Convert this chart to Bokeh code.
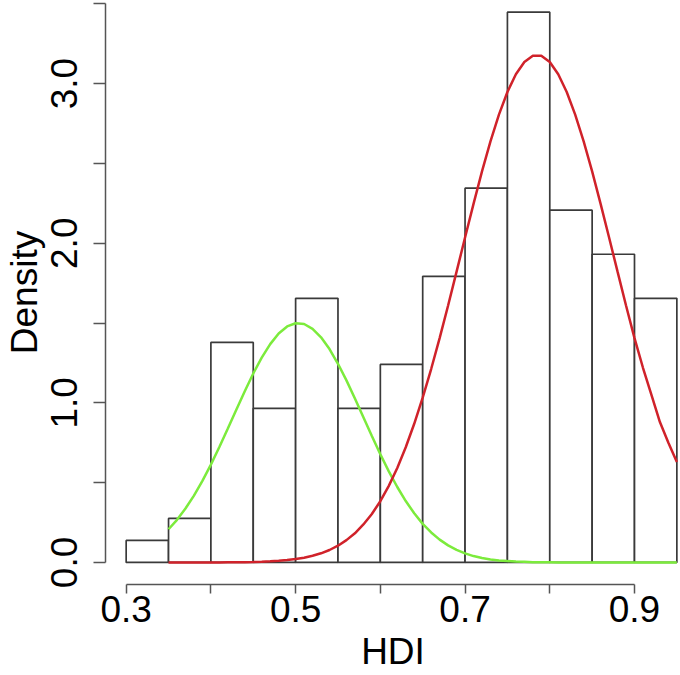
from bokeh.plotting import figure
from bokeh.models import FixedTicker, Range1d
from bokeh.embed import file_html
from bokeh.resources import INLINE

# Histogram of HDI (density scale), bin breaks every 0.05
bin_left = [0.30, 0.35, 0.40, 0.45, 0.50, 0.55, 0.60, 0.65, 0.70, 0.75, 0.80, 0.85, 0.90]
bin_right = [0.35, 0.40, 0.45, 0.50, 0.55, 0.60, 0.65, 0.70, 0.75, 0.80, 0.85, 0.90, 0.95]
density = [0.138, 0.276, 1.379, 0.966, 1.655, 0.966, 1.241, 1.793, 2.345, 3.448, 2.207, 1.931, 1.655]

# Fitted component curves
curve_x = [0.35, 0.36, 0.37, 0.38, 0.39, 0.40, 0.41, 0.42, 0.43, 0.44,
           0.45, 0.46, 0.47, 0.48, 0.49, 0.50, 0.51, 0.52, 0.53, 0.54,
           0.55, 0.56, 0.57, 0.58, 0.59, 0.60, 0.61, 0.62, 0.63, 0.64,
           0.65, 0.66, 0.67, 0.68, 0.69, 0.70, 0.71, 0.72, 0.73, 0.74,
           0.75, 0.76, 0.77, 0.78, 0.79, 0.80, 0.81, 0.82, 0.83, 0.84,
           0.85, 0.86, 0.87, 0.88, 0.89, 0.90, 0.91, 0.92, 0.93, 0.94, 0.95]
green_y = [0.208, 0.267, 0.338, 0.419, 0.511, 0.613, 0.723, 0.839, 0.957, 1.073,
           1.184, 1.283, 1.368, 1.435, 1.479, 1.499, 1.494, 1.464, 1.411, 1.337,
           1.245, 1.141, 1.027, 0.910, 0.792, 0.678, 0.571, 0.473, 0.385, 0.308,
           0.242, 0.188, 0.143, 0.107, 0.079, 0.057, 0.040, 0.028, 0.019, 0.013,
           0.009, 0.006, 0.004, 0.002, 0.001, 0.001, 0.0, 0.0, 0.0, 0.0,
           0.0, 0.0, 0.0, 0.0, 0.0, 0.0, 0.0, 0.0, 0.0, 0.0, 0.0]
red_y = [0.0, 0.0, 0.0, 0.0001, 0.0002, 0.0003, 0.0005, 0.0009, 0.0013, 0.0020,
         0.0031, 0.0047, 0.0070, 0.0102, 0.0148, 0.0211, 0.0299, 0.0417, 0.0574, 0.0782,
         0.105, 0.140, 0.183, 0.238, 0.304, 0.384, 0.480, 0.592, 0.722, 0.869,
         1.033, 1.212, 1.406, 1.610, 1.822, 2.036, 2.247, 2.450, 2.638, 2.806,
         2.948, 3.059, 3.136, 3.175, 3.175, 3.136, 3.059, 2.948, 2.806, 2.638,
         2.450, 2.247, 2.036, 1.822, 1.610, 1.406, 1.220, 1.050, 0.880, 0.750, 0.630]

x_ticks = [0.3, 0.4, 0.5, 0.6, 0.7, 0.8, 0.9]
x_labels = {0.3: "0.3", 0.4: "", 0.5: "0.5", 0.6: "", 0.7: "0.7", 0.8: "", 0.9: "0.9"}
y_ticks = [0.0, 0.5, 1.0, 1.5, 2.0, 2.5, 3.0, 3.5]
y_labels = {0.0: "0.0", 0.5: "", 1.0: "1.0", 1.5: "", 2.0: "2.0", 2.5: "", 3.0: "3.0", 3.5: ""}
x_title = "HDI"
y_title = "Density"

FONT = "Liberation Sans"
AXIS_COLOR = "#555555"

p = figure(width=680, height=675, output_backend="svg", toolbar_location=None,
           x_range=Range1d(0.2756, 0.9543), y_range=Range1d(-0.138, 3.521),
           min_border_left=105, min_border_right=0, min_border_top=0, min_border_bottom=91,
           x_axis_label=x_title, y_axis_label=y_title)

p.quad(left=bin_left, right=bin_right, bottom=0, top=density,
       fill_color="white", line_color="#3a3a3a", line_width=1.7)
p.line(curve_x, green_y, line_color="#7CEB3C", line_width=2.5)
p.line(curve_x, red_y, line_color="#D0222A", line_width=2.5)

p.grid.visible = False
p.outline_line_color = None
p.background_fill_color = "white"
p.border_fill_color = "white"

xa = p.xaxis[0]
xa.ticker = FixedTicker(ticks=x_ticks)
xa.major_label_overrides = x_labels
xa.bounds = (0.3, 0.9)
xa.major_tick_out = 9
xa.major_tick_in = 0
xa.minor_tick_line_color = None
xa.major_label_standoff = 2
xa.axis_label_standoff = 6

ya = p.yaxis[0]
ya.ticker = FixedTicker(ticks=y_ticks)
ya.major_label_overrides = y_labels
ya.bounds = (0.0, 3.5)
ya.major_tick_out = 12
ya.major_tick_in = 0
ya.minor_tick_line_color = None
ya.major_label_orientation = "vertical"
ya.major_label_standoff = 16
ya.axis_label_standoff = 4

for ax in (xa, ya):
    ax.axis_line_color = AXIS_COLOR
    ax.axis_line_width = 1.5
    ax.major_tick_line_color = AXIS_COLOR
    ax.major_tick_line_width = 1.5
    ax.major_label_text_font = FONT
    ax.major_label_text_font_size = "37px"
    ax.major_label_text_color = "black"
    ax.axis_label_text_font = FONT
    ax.axis_label_text_font_size = "37px"
    ax.axis_label_text_font_style = "normal"
    ax.axis_label_text_color = "black"

open("out.html", "w").write(file_html(p, INLINE))
